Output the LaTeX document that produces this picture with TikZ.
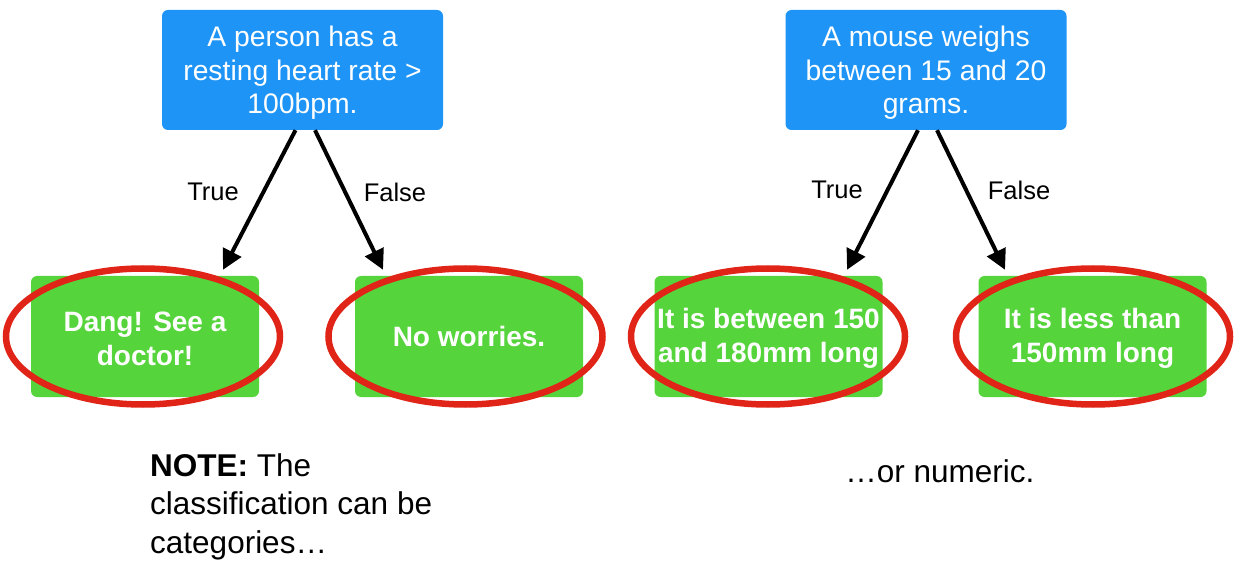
\documentclass[tikz,border=0pt]{standalone}
\usepackage{fontspec}
\setmainfont{Liberation Sans}
\usetikzlibrary{arrows.meta,calc}
\definecolor{qblue}{RGB}{30,148,246}
\definecolor{qgreen}{RGB}{85,212,59}
\definecolor{qred}{RGB}{224,36,24}
\newcommand{\toppad}{\rule{0pt}{26pt}}
\tikzset{
  qbox/.style={fill=qblue, rounded corners=6pt, minimum width=281pt, minimum height=120pt, inner sep=0pt,
    text=white, align=center, font=\fontsize{28.3}{33.5}\selectfont},
  leaf/.style={fill=qgreen, rounded corners=6pt, minimum width=228pt, minimum height=121pt, inner sep=0pt,
    text=white, align=center, font=\fontsize{28}{34.5}\selectfont\bfseries},
  ring/.style={draw=qred, line width=6.5pt},
  conn/.style={line width=4pt, -{Triangle[length=20pt,width=20pt]}},
  lbl/.style={font=\fontsize{25.5}{30}\selectfont, inner sep=0pt},
  note/.style={font=\fontsize{31.5}{38.5}\selectfont, inner sep=0pt, align=left}
}
\begin{document}
\begin{tikzpicture}[x=1pt,y=-1pt]
\useasboundingbox[fill=white] (0,0) rectangle (1243,572);
\node[qbox] (q1) at (302.5,70) {\toppad A person has a\\resting heart rate >\\100bpm.};
\node[qbox] (q2) at (926,70) {\toppad A mouse weighs\\between 15 and 20\\grams.};
\node[leaf] (g1) at (145,336.5) {\rule{0pt}{24pt}Dang! See a\\doctor!};
\node[leaf] (g2) at (469,336.5) {No worries.};
\node[leaf] (g3) at (768.5,336.5) {\rule{0pt}{24pt}It is between 150\\and 180mm long};
\node[leaf] (g4) at (1092.5,336.5) {\rule{0pt}{24pt}It is less than\\150mm long};
\draw[ring] (g1.center) ++(-2,0) ellipse [x radius=137, y radius=68];
\draw[ring] (g2.center) ++(-3.5,0) ellipse [x radius=137, y radius=68];
\draw[ring] (g3.center) ++(-0.5,0) ellipse [x radius=137, y radius=68];
\draw[ring] (g4.center) ++(0.5,0) ellipse [x radius=137, y radius=68];
\draw[conn] ($(q1.south)+(-7,0)$) -- ($(g1.north)+(78,-6)$);
\draw[conn] ($(q1.south)+(12.5,0)$) -- ($(g2.north)+(-86,-6)$);
\draw[conn] ($(q2.south)+(-8,0)$) -- ($(g3.north)+(78.5,-6)$);
\draw[conn] ($(q2.south)+(11,0)$) -- ($(g4.north)+(-87.5,-6)$);
\node[lbl] (t1) at (213,192) {True};
\node[lbl] (f1) at (395,192) {False};
\node[lbl] (t2) at (837,190) {True};
\node[lbl] (f2) at (1019,190) {False};
\node[note, anchor=north west] (n1) at (150,453) {\textbf{NOTE:} The\\classification can be\\categories…};
\node[note] (n2) at (940,471) {…or numeric.};
\end{tikzpicture}
\end{document}
